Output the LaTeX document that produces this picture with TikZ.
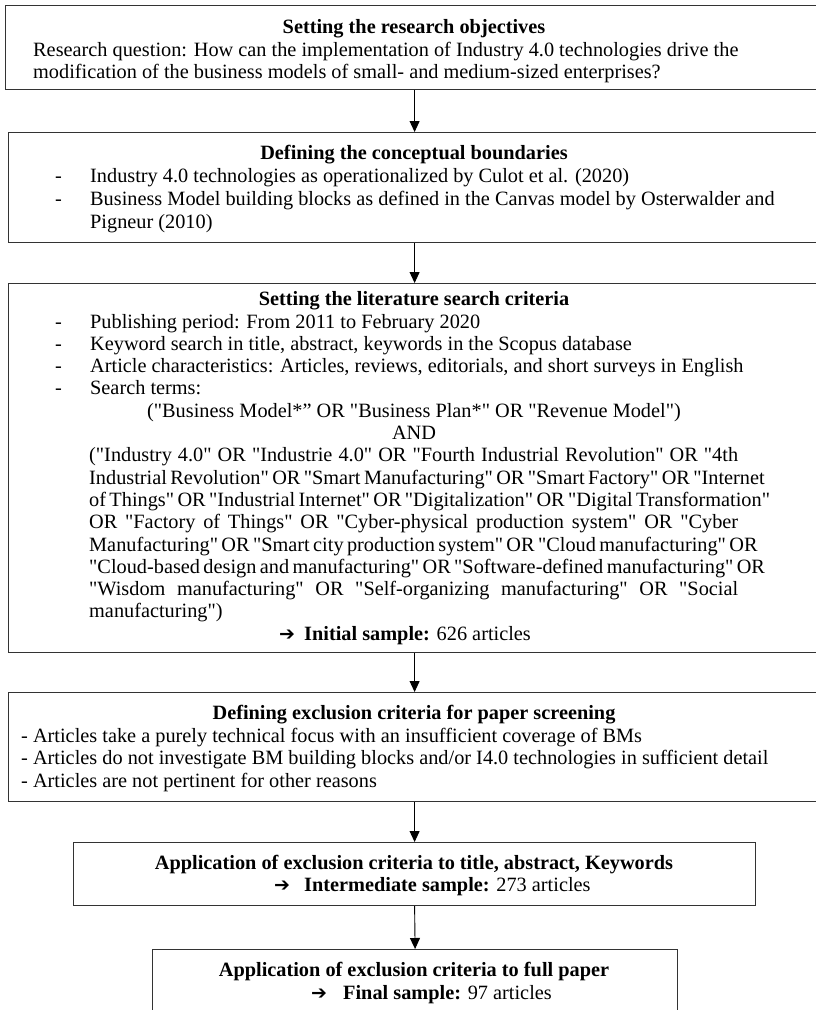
\documentclass[tikz,border=0pt]{standalone}
\usepackage{fontspec}
\setmainfont{Liberation Serif}[Ligatures=TeXOff]
\newfontfamily\arrfont{DejaVu Sans}
\usetikzlibrary{arrows.meta}
\newcommand\txtsize{\fontsize{20.3pt}{22.3pt}\selectfont}
\newcommand\arrsym{{\arrfont\fontsize{19pt}{19pt}\selectfont ➔}}
\newcommand\jline[1]{\makebox[649pt][s]{#1}}
\begin{document}
\begin{tikzpicture}[x=1pt, y=-1pt,
  box/.style={draw=black!80, line width=1.2pt, inner sep=0pt, anchor=north west},
  ttl/.style={font=\txtsize\bfseries, anchor=base, inner sep=0pt},
  txt/.style={font=\txtsize, anchor=base west, inner sep=0pt},
  link/.style={draw=black, line width=0.9pt, -{Triangle[width=10pt,length=11pt]}}]
\useasboundingbox (0,0) rectangle (815,1010);

% boxes
\node[box, minimum width=818pt, minimum height=84pt]  (b1) at (5,5) {};
\node[box, minimum width=812pt, minimum height=110pt] (b2) at (8,132) {};
\node[box, minimum width=812pt, minimum height=369pt] (b3) at (8,283) {};
\node[box, minimum width=812pt, minimum height=109pt] (b4) at (8,692) {};
\node[box, minimum width=682pt, minimum height=63pt]  (b5) at (73,842) {};
\node[box, minimum width=525pt, minimum height=80pt]  (b6) at (152,949) {};

% connectors
\draw[link] (b1.south) -- (b2.north);
\draw[link] (b2.south) -- (b3.north);
\draw[link] (b3.south) -- (b4.north);
\draw[link] (b4.south) -- (b5.north);
\draw[link] (b5.south) -- (b6.north);

% box 1
\node[ttl] (t1) at (414,33) {Setting the research objectives};
\node[txt] (p1) at (33,56) {\parbox[t]{760pt}{\raggedright\fontsize{20.3pt}{22.5pt}\selectfont
Research question: How can the implementation of Industry 4.0 technologies drive the\\
modification of the business models of small- and medium-sized enterprises?}};

% box 2
\node[ttl] (t2) at (414,159) {Defining the conceptual boundaries};
\node[txt] (p2) at (55,182) {\parbox[t]{760pt}{\raggedright\fontsize{20.3pt}{23pt}\selectfont
\makebox[35pt][l]{-}Industry 4.0 technologies as operationalized by Culot et al. (2020)\\
\makebox[35pt][l]{-}Business Model building blocks as defined in the Canvas model by Osterwalder and\\
\hspace*{35pt}Pigneur (2010)}};

% box 3
\node[ttl] (t3) at (414,305) {Setting the literature search criteria};
\node[txt] (p3) at (55,328) {\parbox[t]{760pt}{\raggedright\fontsize{20.3pt}{22.3pt}\selectfont
\makebox[35pt][l]{-}Publishing period: From 2011 to February 2020\\
\makebox[35pt][l]{-}Keyword search in title, abstract, keywords in the Scopus database\\
\makebox[35pt][l]{-}Article characteristics: Articles, reviews, editorials, and short surveys in English\\
\makebox[35pt][l]{-}Search terms:}};
\node[txt, anchor=base] (q1) at (414,417.2) {("Business Model*” OR "Business Plan*" OR "Revenue Model")};
\node[txt, anchor=base] (q2) at (414,439.5) {AND};
\node[txt] (q3) at (89,461.8) {\parbox[t]{649pt}{\fontsize{20.3pt}{22.3pt}\selectfont
\jline{("Industry 4.0" OR "Industrie 4.0" OR "Fourth Industrial Revolution" OR "4th}\\
\jline{Industrial Revolution" OR "Smart Manufacturing" OR "Smart Factory" OR "Internet}\\
\jline{of Things" OR "Industrial Internet" OR "Digitalization" OR "Digital Transformation"}\\
\jline{OR "Factory of Things" OR "Cyber-physical production system" OR "Cyber}\\
\jline{Manufacturing" OR "Smart city production system" OR "Cloud manufacturing" OR}\\
\jline{"Cloud-based design and manufacturing" OR "Software-defined manufacturing" OR}\\
\jline{"Wisdom manufacturing" OR "Self-organizing manufacturing" OR "Social}\\
manufacturing")}};
\node[txt] (s1) at (279,640.2) {\makebox[25pt][l]{\arrsym}\textbf{Initial sample:} 626 articles};

% box 4
\node[ttl] (t4) at (414,719) {Defining exclusion criteria for paper screening};
\node[txt] (p4) at (21,742) {\parbox[t]{790pt}{\raggedright\fontsize{20.3pt}{22.5pt}\selectfont
- Articles take a purely technical focus with an insufficient coverage of BMs\\
- Articles do not investigate BM building blocks and/or I4.0 technologies in sufficient detail\\
- Articles are not pertinent for other reasons}};

% box 5
\node[ttl] (t5) at (414,869) {Application of exclusion criteria to title, abstract, Keywords};
\node[txt] (s2) at (274,891) {\makebox[30pt][l]{\arrsym}\textbf{Intermediate sample:} 273 articles};

% box 6
\node[ttl] (t6) at (414,976) {Application of exclusion criteria to full paper};
\node[txt] (s3) at (311,999) {\makebox[32pt][l]{\arrsym}\textbf{Final sample:} 97 articles};
\end{tikzpicture}
\end{document}
